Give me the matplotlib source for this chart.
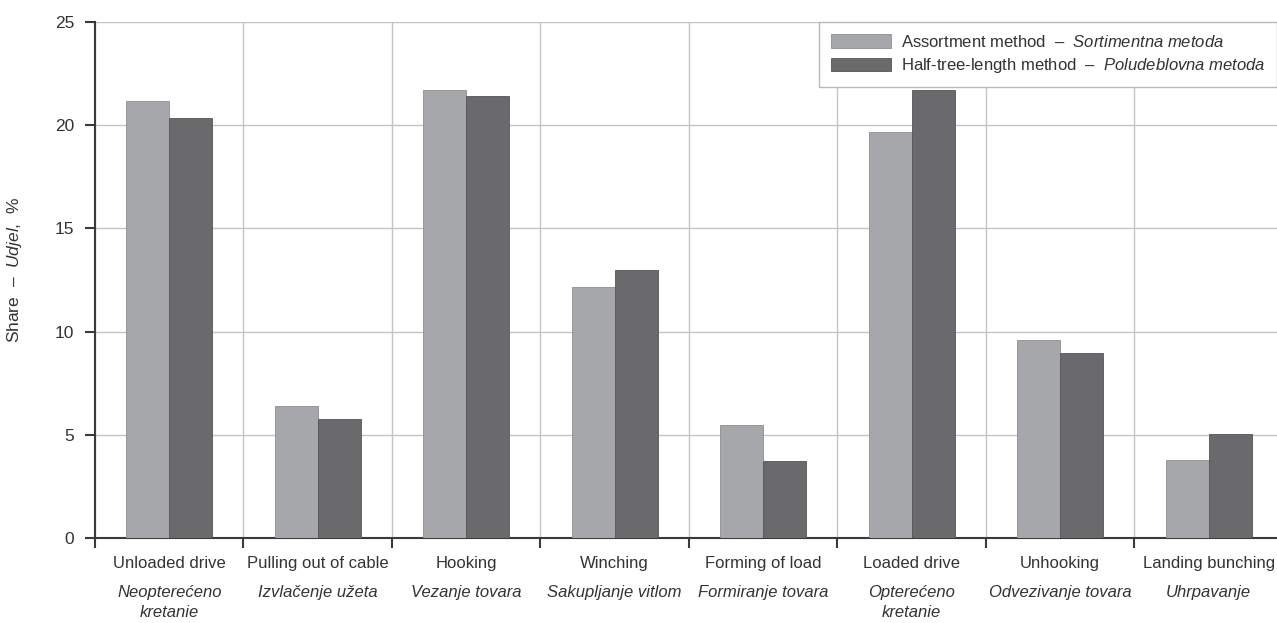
import matplotlib
matplotlib.use("Agg")
import matplotlib.pyplot as plt
import numpy as np
from matplotlib import font_manager

# pick a narrow sans if it is there
names = set(f.name for f in font_manager.fontManager.ttflist)
fam = "Liberation Sans Narrow" if "Liberation Sans Narrow" in names else "Liberation Sans"

plt.rcParams['font.family'] = [fam, 'DejaVu Sans']
plt.rcParams['mathtext.fontset'] = 'custom'
plt.rcParams['mathtext.rm'] = fam
plt.rcParams['mathtext.it'] = fam + ':italic'

# data
cats_en = ["Unloaded drive", "Pulling out of cable", "Hooking", "Winching",
           "Forming of load", "Loaded drive", "Unhooking", "Landing bunching"]
cats_hr = ["Neopterećeno\nkretanie", "Izvlačenje užeta", "Vezanje tovara",
           "Sakupljanje vitlom", "Formiranje tovara", "Opterećeno\nkretanie",
           "Odvezivanje tovara", "Uhrpavanje"]
assortment = [21.15, 6.4, 21.7, 12.15, 5.47, 19.65, 9.6, 3.8]
half_tree = [20.35, 5.78, 21.4, 12.98, 3.75, 21.7, 8.97, 5.03]

light = '#a6a7aa'
dark = '#6a6a6c'
grid_c = '#c4c4c4'

fig = plt.figure(figsize=(12.77, 6.23), dpi=100)
ax = fig.add_axes([95/1277, 85/623, 1 - 95/1277, (538 - 22)/623])

x = np.arange(len(cats_en))
w = 0.29
ax.bar(x - w/2, assortment, w, color=light, edgecolor='#8e8f92', linewidth=0.6,
       label=r"Assortment method  –  $\mathit{Sortimentna\ metoda}$", zorder=3)
ax.bar(x + w/2, half_tree, w, color=dark, edgecolor='#555557', linewidth=0.6,
       label=r"Half-tree-length method  –  $\mathit{Poludeblovna\ metoda}$", zorder=3)

ax.set_xlim(-0.5, 7.46)
ax.set_ylim(0, 25)
ax.set_yticks([0, 5, 10, 15, 20, 25])
ax.set_xticks(np.arange(-0.5, 7.5, 1))
ax.set_xticklabels([])
ax.grid(True, color=grid_c, linewidth=1, zorder=0)

for s in ['top', 'right']:
    ax.spines[s].set_visible(False)
ax.spines['left'].set_color('#3a3a3a')
ax.spines['bottom'].set_color('#3a3a3a')
ax.spines['left'].set_linewidth(1.5)
ax.spines['bottom'].set_linewidth(1.5)
ax.tick_params(axis='both', direction='out', length=7, width=1.5, color='#3a3a3a',
               labelsize=12.5, labelcolor='#333333')
ax.tick_params(axis='y', pad=8)

for i in x:
    ax.annotate(cats_en[i], xy=(i, 0), xycoords=('data', 'axes fraction'),
                xytext=(0, -13), textcoords='offset points', ha='center', va='top',
                fontsize=12, color='#333333')
    ax.annotate(cats_hr[i], xy=(i, 0), xycoords=('data', 'axes fraction'),
                xytext=(0, -33.5), textcoords='offset points', ha='center', va='top',
                fontsize=12, style='italic', color='#333333', linespacing=1.45,
                multialignment='center')

ax.set_ylabel(r"Share  –  $\mathit{Udjel}$,  %", fontsize=12.5, color='#333333', labelpad=18)
ax.yaxis.set_label_coords(-0.06, 0.52)

leg = ax.legend(loc='upper right', bbox_to_anchor=(1.0, 1.0), fontsize=12,
                frameon=True, fancybox=False, edgecolor='#b8b8b8', framealpha=1,
                handlelength=3.6, handleheight=0.9, handletextpad=0.6,
                borderpad=0.7, labelspacing=0.4, borderaxespad=0)
leg.get_frame().set_linewidth(1)
for t in leg.get_texts():
    t.set_color('#333333')

fig.savefig("out.png", dpi=100)
